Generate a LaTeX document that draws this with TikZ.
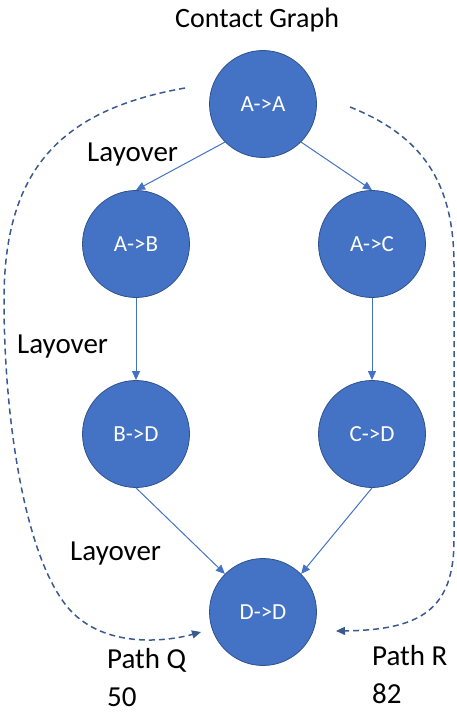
\documentclass[tikz,border=0pt]{standalone}
\usepackage{fontspec}
\setmainfont{Carlito}
\usetikzlibrary{arrows.meta}
\definecolor{nodefill}{HTML}{4472C4}
\definecolor{nodeedge}{HTML}{2F528F}
\definecolor{pathblue}{HTML}{3A5A8F}
\tikzset{
  state/.style={circle, fill=nodefill, draw=nodeedge, line width=0.8pt,
    minimum size=107pt, inner sep=0pt, text=white,
    font=\fontsize{23}{27}\selectfont},
  link/.style={draw=nodefill, line width=1pt,
    -{Triangle[length=9pt,width=8pt]}},
  route/.style={draw=pathblue, line width=1.5pt, dash pattern=on 6pt off 4pt,
    -{Triangle[length=9pt,width=8pt]}},
  caption/.style={font=\fontsize{29}{34}\selectfont, text=black,
    inner sep=0pt, anchor=base west}
}
\begin{document}
\begin{tikzpicture}[x=1pt,y=-1pt]
\useasboundingbox (0,0) rectangle (457,714);

% states of the contact graph
\node[state] (aa) at (263,104) {A->A};
\node[state] (ab) at (136,244) {A->B};
\node[state] (ac) at (372,244) {A->C};
\node[state] (bd) at (136,434) {B->D};
\node[state] (cd) at (372,434) {C->D};
\node[state] (dd) at (263,612) {D->D};

% transitions
\draw[link] (aa.south west) -- (ab.north);
\draw[link] (aa.south east) -- (ac.north);
\draw[link] (ab.south) -- (bd.north);
\draw[link] (ac.south) -- (cd.north);
\draw[link] (bd.south) -- (dd.north west);
\draw[link] (cd.south) -- (dd.north east);

% end points of the two routes
\coordinate (qs) at (185,88);
\coordinate (qe) at (201,632);
\coordinate (rs) at (350,107);
\coordinate (re) at (336,631);

% route Q along the left side
\draw[route] (qs) .. controls (60,110) and (4,170) .. (4,300)
  .. controls (4,420) and (25,560) .. (70,610)
  .. controls (105,648) and (165,642) .. (qe);

% route R along the right side
\draw[route] (rs) .. controls (420,135) and (454,180) .. (454,265)
  -- (454,540)
  .. controls (454,610) and (420,630) .. (re);

% captions
\node[caption, font=\fontsize{28}{33}\selectfont] (title) at (175,28) {Contact Graph};
\node[caption] (lay1) at (87,161) {Layover};
\node[caption] (lay2) at (17,353) {Layover};
\node[caption] (lay3) at (70,560) {Layover};
\node[caption] (pq) at (107,668) {Path Q};
\node[caption] (pqv) at (107,706) {50};
\node[caption] (pr) at (372,665) {Path R};
\node[caption] (prv) at (372,703) {82};
\end{tikzpicture}
\end{document}
